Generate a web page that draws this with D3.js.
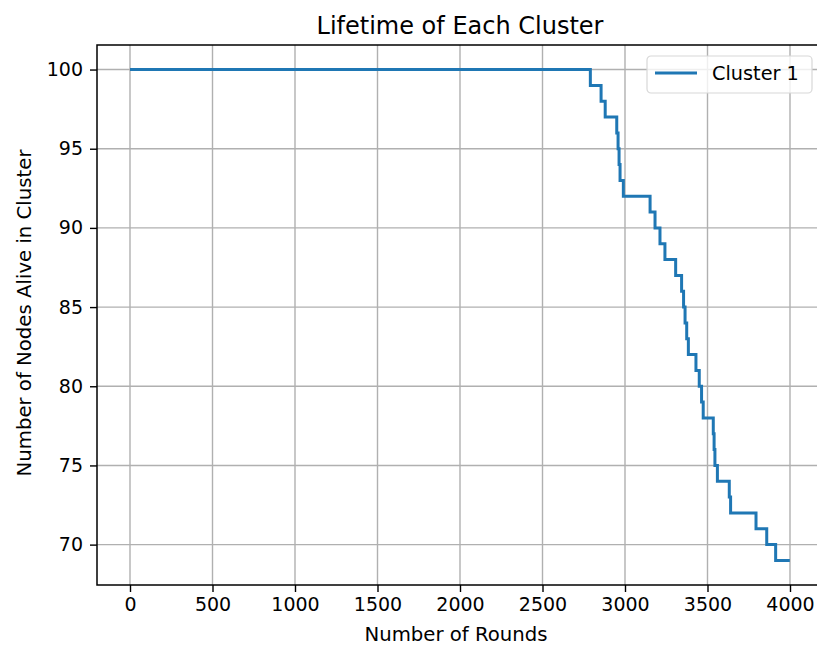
<!DOCTYPE html>
<html>
<head>
<meta charset="utf-8">
<script src="https://cdn.jsdelivr.net/npm/d3@7"></script>
<style>
  body { margin: 0; background: #fff; }
  svg { display: block; font-family: "DejaVu Sans", sans-serif; }
</style>
</head>
<body>
<svg id="chart" width="817" height="646"></svg>
<script>
// step data: round where the count changes, and the new count
var rounds = [0, 2790, 2855, 2880, 2950, 2958, 2964, 2970, 2990, 3152, 3182, 3212, 3242,
              3307, 3343, 3355, 3364, 3374, 3384, 3430, 3450, 3464, 3474, 3535, 3540, 3545,
              3560, 3632, 3640, 3794, 3859, 3913, 3999];
var alive = [100, 99, 98, 97, 96, 95, 94, 93, 92, 91, 90, 89, 88,
             87, 86, 85, 84, 83, 82, 81, 80, 79, 78, 77, 76, 75,
             74, 73, 72, 71, 70, 69, 69];
var xTicks = [0, 500, 1000, 1500, 2000, 2500, 3000, 3500, 4000];
var yTicks = [70, 75, 80, 85, 90, 95, 100];
var seriesName = 'Cluster 1';

var svg = d3.select('#chart');

var LEFT = 97, RIGHT = 823, TOP = 45, BOTTOM = 585;
var LINE_COLOR = '#1f77b4';
var GRID_COLOR = '#b0b0b0';
var TICK_FONT = '19px';
var LABEL_FONT = '19.7px';

var data = rounds.map(function(r, i) { return {x: r, y: alive[i]}; });

var x = d3.scaleLinear().domain([-200, 4200]).range([LEFT, RIGHT]);
var y = d3.scaleLinear().domain([67.45, 101.55]).range([BOTTOM, TOP]);

// grid
svg.append('g')
    .selectAll('line')
    .data(xTicks)
    .enter().append('line')
    .attr('x1', function(d) { return x(d); })
    .attr('x2', function(d) { return x(d); })
    .attr('y1', TOP)
    .attr('y2', BOTTOM)
    .style('stroke', GRID_COLOR)
    .style('stroke-width', 1.4);

svg.append('g')
    .selectAll('line')
    .data(yTicks)
    .enter().append('line')
    .attr('x1', LEFT)
    .attr('x2', RIGHT)
    .attr('y1', function(d) { return y(d); })
    .attr('y2', function(d) { return y(d); })
    .style('stroke', GRID_COLOR)
    .style('stroke-width', 1.4);

// line
var line = d3.line()
    .x(function(d) { return x(d.x); })
    .y(function(d) { return y(d.y); })
    .curve(d3.curveStepAfter);

svg.append('path')
    .datum(data)
    .attr('d', line)
    .style('fill', 'none')
    .style('stroke', LINE_COLOR)
    .style('stroke-width', 3);

// axes
var xAxis = svg.append('g')
    .attr('transform', 'translate(0,' + BOTTOM + ')')
    .call(d3.axisBottom(x).tickValues(xTicks).tickSize(7).tickPadding(6).tickFormat(d3.format('d')));
var yAxis = svg.append('g')
    .attr('transform', 'translate(' + LEFT + ',0)')
    .call(d3.axisLeft(y).tickValues(yTicks).tickSize(7).tickPadding(7).tickFormat(d3.format('d')));

[xAxis, yAxis].forEach(function(a) {
    a.select('.domain').remove();
    a.selectAll('text').style('font-size', TICK_FONT).style('fill', '#000')
        .style('font-family', '"DejaVu Sans", sans-serif');
    a.selectAll('line').style('stroke', '#000').style('stroke-width', 1.4);
});

// frame
svg.append('rect')
    .attr('x', LEFT)
    .attr('y', TOP)
    .attr('width', RIGHT - LEFT)
    .attr('height', BOTTOM - TOP)
    .style('fill', 'none')
    .style('stroke', '#000')
    .style('stroke-width', 1.5);

// titles
svg.append('text')
    .attr('x', 460)
    .attr('y', 34)
    .attr('text-anchor', 'middle')
    .style('font-size', '24px')
    .text('Lifetime of Each Cluster');

svg.append('text')
    .attr('x', 456)
    .attr('y', 641)
    .attr('text-anchor', 'middle')
    .style('font-size', LABEL_FONT)
    .text('Number of Rounds');

svg.append('text')
    .attr('transform', 'translate(31,313) rotate(-90)')
    .attr('text-anchor', 'middle')
    .style('font-size', LABEL_FONT)
    .text('Number of Nodes Alive in Cluster');

// legend
var legend = svg.append('g').attr('transform', 'translate(647,56)');
legend.append('rect')
    .attr('width', 165)
    .attr('height', 37)
    .attr('rx', 4)
    .style('fill', 'rgba(255,255,255,0.8)')
    .style('stroke', '#d8d8d8')
    .style('stroke-width', 1.2);
legend.append('line')
    .attr('x1', 8).attr('x2', 50)
    .attr('y1', 17).attr('y2', 17)
    .style('stroke', LINE_COLOR)
    .style('stroke-width', 3);
legend.append('text')
    .attr('x', 65)
    .attr('y', 24)
    .style('font-size', '19.3px')
    .text(seriesName);
</script>
</body>
</html>
